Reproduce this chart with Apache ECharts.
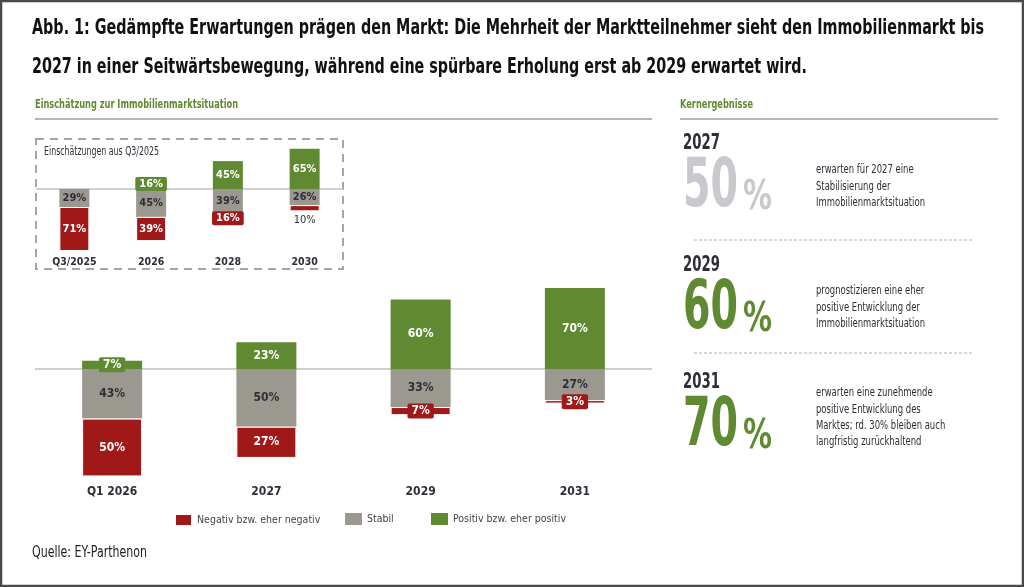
<!DOCTYPE html>
<html>
<head>
<meta charset="utf-8">
<script src="https://cdn.jsdelivr.net/npm/echarts@6/dist/echarts.min.js"></script>
<style>
  html, body { margin: 0; padding: 0; background: #fff; }
  #chart { width: 1024px; height: 587px; }
</style>
</head>
<body>
<div id="chart"></div>
<script>
  // main chart data
  const categories = ['Q1 2026', '2027', '2029', '2031'];
  const negativ = [50, 27, 7, 3];
  const stabil = [43, 50, 33, 27];
  const positiv = [7, 23, 60, 70];

  // inset: Einschätzungen aus Q3/2025
  const insetCategories = ['Q3/2025', '2026', '2028', '2030'];
  const insetNegativ = [71, 39, 16, 10];
  const insetStabil = [29, 45, 39, 26];
  const insetPositiv = [0, 16, 45, 65];

  // Kernergebnisse
  const keyYears = ['2027', '2029', '2031'];
  const keyShares = [50, 60, 70];
  const keyTexts = [
    ['erwarten für 2027 eine', 'Stabilisierung der', 'Immobilienmarktsituation'],
    ['prognostizieren eine eher', 'positive Entwicklung der', 'Immobilienmarktsituation'],
    ['erwarten eine zunehmende', 'positive Entwicklung des', 'Marktes; rd. 30% bleiben auch', 'langfristig zurückhaltend']
  ];

  const FONT = '"Liberation Sans Narrow", "DejaVu Sans Condensed", "DejaVu Sans", sans-serif';
  const RED = '#a01818';
  const GREY = '#9b988f';
  const GREEN = '#5f8a31';
  const DARK = '#2e2e38';
  const NAMES = ['Negativ bzw. eher negativ', 'Stabil', 'Positiv bzw. eher positiv'];

  // squeeze text horizontally to the width it has in the original (condensed face)
  const measureCtx = document.createElement('canvas').getContext('2d');
  function text(str, x, y, font, color, width, ref) {
    measureCtx.font = font;
    const w = measureCtx.measureText(ref || str).width;
    return {
      type: 'text', x: x, y: y, scaleX: width ? width / w : 1,
      style: { text: str, font: font, fill: color, verticalAlign: 'middle' }
    };
  }

  // build data items; small segments get a badge label, tiny inset ones a label below
  function items(vals, sign, color, badgeUnder, belowUnder) {
    return vals.map(v => {
      const it = { value: sign * v };
      if (v === 0) {
        it.label = { show: false };
      } else if (v < belowUnder) {
        it.label = { position: 'bottom', distance: 3, color: DARK, fontWeight: 'normal' };
      } else if (v < badgeUnder) {
        it.label = { backgroundColor: color, padding: [2, 4, 1, 4], borderRadius: 2 };
      }
      return it;
    });
  }

  function barSeries(name, data, color, textColor, gridIdx, width, fontSize, border) {
    return {
      name: name,
      type: 'bar',
      stack: 'g' + gridIdx,
      xAxisIndex: gridIdx,
      yAxisIndex: gridIdx,
      barWidth: width,
      itemStyle: { color: color, borderColor: border ? '#fff' : color, borderWidth: border ? 1 : 0 },
      label: {
        show: true,
        position: 'inside',
        color: textColor,
        fontFamily: FONT,
        fontSize: fontSize,
        fontWeight: 'bold',
        formatter: p => Math.abs(p.value) + '%'
      },
      data: data
    };
  }

  const series = [
    // inset
    barSeries(NAMES[1], items(insetStabil, -1, GREY, 0, 0), GREY, DARK, 0, 30, 11),
    barSeries(NAMES[0], items(insetNegativ, -1, RED, 20, 12), RED, '#fff', 0, 30, 11, true),
    barSeries(NAMES[2], items(insetPositiv, 1, GREEN, 20, 0), GREEN, '#fff', 0, 30, 11),
    // main
    barSeries(NAMES[1], items(stabil, -1, GREY, 0, 0), GREY, DARK, 1, 60, 12),
    barSeries(NAMES[0], items(negativ, -1, RED, 10, 0), RED, '#fff', 1, 60, 12, true),
    barSeries(NAMES[2], items(positiv, 1, GREEN, 10, 0), GREEN, '#fff', 1, 60, 12)
  ];
  const zeroLine = {
    silent: true, symbol: 'none', z: 1,
    label: { show: false },
    lineStyle: { color: '#cfcfcf', width: 2, type: 'solid' },
    data: [{ yAxis: 0 }]
  };
  series[2].markLine = zeroLine;
  series[5].markLine = zeroLine;

  const graphic = [
    { type: 'rect', shape: { x: 1, y: 1, width: 1022, height: 585 }, style: { fill: 'none', stroke: '#4a4a4a', lineWidth: 2.5 } },
    text('Abb. 1: Gedämpfte Erwartungen prägen den Markt: Die Mehrheit der Marktteilnehmer sieht den Immobilienmarkt bis', 32, 28.5, 'bold 21px ' + FONT, '#111', 952),
    text('2027 in einer Seitwärtsbewegung, während eine spürbare Erholung erst ab 2029 erwartet wird.', 32, 68, 'bold 21px ' + FONT, '#111', 775),
    text('Einschätzung zur Immobilienmarktsituation', 35, 105, 'bold 13px ' + FONT, GREEN, 203),
    { type: 'line', shape: { x1: 35, y1: 119, x2: 652, y2: 119 }, style: { stroke: '#9c9cab', lineWidth: 1.5 } },
    text('Kernergebnisse', 680, 105, 'bold 13px ' + FONT, GREEN, 73),
    { type: 'line', shape: { x1: 680, y1: 119, x2: 998, y2: 119 }, style: { stroke: '#9c9cab', lineWidth: 1.5 } },
    { type: 'rect', shape: { x: 36, y: 139, width: 307, height: 130 }, style: { fill: 'none', stroke: '#a5a5a5', lineWidth: 2, lineDash: [8, 6] } },
    text('Einschätzungen aus Q3/2025', 44, 152, '13px ' + FONT, DARK, 115),
    { type: 'line', shape: { x1: 694, y1: 240, x2: 972, y2: 240 }, style: { stroke: '#b0b0b0', lineWidth: 1, lineDash: [3, 2] } },
    { type: 'line', shape: { x1: 694, y1: 353, x2: 972, y2: 353 }, style: { stroke: '#b0b0b0', lineWidth: 1, lineDash: [3, 2] } },
    text('Quelle: EY-Parthenon', 32, 553, '15px ' + FONT, '#222', 115)
  ];

  const yearY = [143, 265, 382.5];
  const digitY = [188, 310, 427.5];
  const descY = [170, 291, 393];
  const shareColors = ['#c9c9cd', GREEN, GREEN];
  keyYears.forEach((yr, i) => {
    graphic.push(text(yr, 683, yearY[i], 'bold 22px ' + FONT, DARK, 37));
    graphic.push(text(String(keyShares[i]), 683, digitY[i], 'bold 68px ' + FONT, shareColors[i], 55));
    graphic.push(text('%', 743, digitY[i] + 10, 'bold 41px ' + FONT, shareColors[i], 29));
    // description lines share one squeeze factor, taken from the longest reference line
    keyTexts[i].forEach((ln, j) => {
      graphic.push(text(ln, 816, descY[i] + j * 16.2, '13px ' + FONT, DARK, 109, 'Immobilienmarktsituation'));
    });
  });

  const legendLeft = [174, 345, 431];
  const legends = NAMES.map((n, i) => ({
    data: [n],
    left: legendLeft[i],
    top: 513,
    padding: 0,
    icon: 'rect',
    itemWidth: 17,
    itemHeight: 12,
    selectedMode: false,
    textStyle: { fontFamily: FONT, fontSize: 10.5, color: '#444' },
    itemStyle: { color: [RED, GREY, GREEN][i] }
  }));

  const catAxis = (gi, data, margin, size) => ({
    type: 'category',
    gridIndex: gi,
    data: data,
    axisLine: { show: false },
    axisTick: { show: false },
    axisLabel: { margin: margin, fontFamily: FONT, fontSize: size, fontWeight: 'bold', color: DARK }
  });
  const valAxis = gi => ({ type: 'value', gridIndex: gi, min: -100, max: 70, show: false });

  const chart = echarts.init(document.getElementById('chart'), null, { renderer: 'canvas' });
  chart.setOption({
    animation: false,
    backgroundColor: '#fff',
    grid: [
      { left: 36, right: 681, top: 145.6, bottom: 336 },
      { left: 35, right: 372, top: 288, bottom: 102.5 }
    ],
    xAxis: [catAxis(0, insetCategories, 6, 10.5), catAxis(1, categories, 1, 12)],
    yAxis: [valAxis(0), valAxis(1)],
    legend: legends,
    graphic: graphic,
    series: series
  });
</script>
</body>
</html>
